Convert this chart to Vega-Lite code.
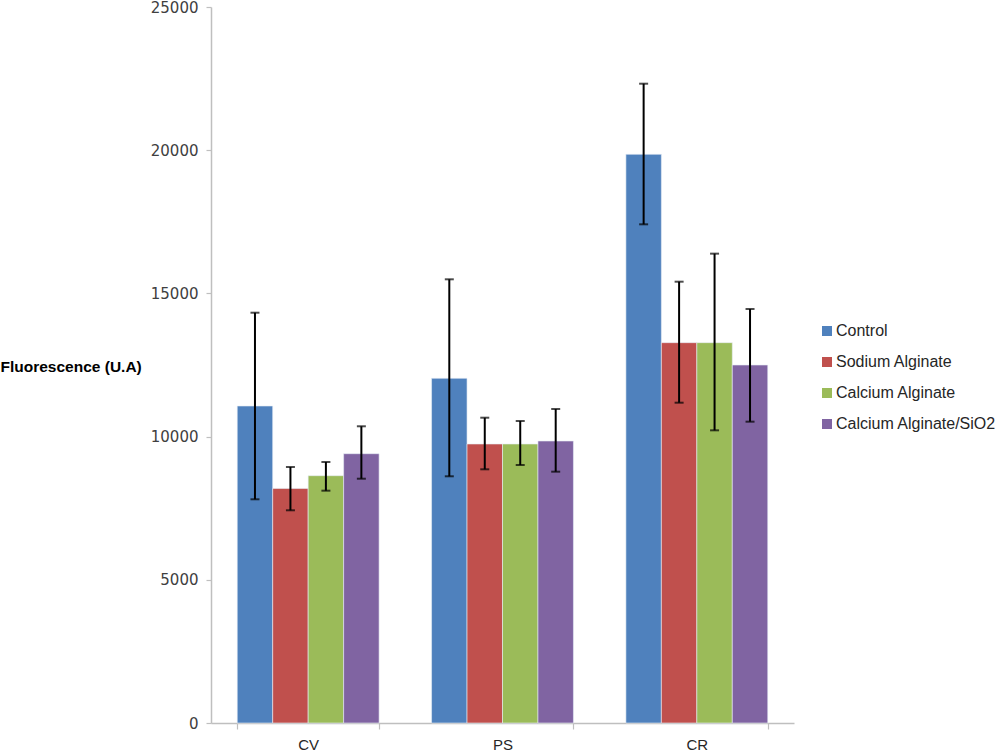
{
  "$schema": "https://vega.github.io/schema/vega-lite/v6.json",
  "width": 583,
  "height": 716,
  "autosize": "none",
  "padding": {"left": 211, "top": 7, "right": 206, "bottom": 30},
  "background": "white",
  "data": {
    "values": [
      {"site": "CV", "group": "Control", "value": 11068, "lo": 7811, "hi": 14326},
      {"site": "CV", "group": "Sodium Alginate", "value": 8190, "lo": 7427, "hi": 8939},
      {"site": "CV", "group": "Calcium Alginate", "value": 8635, "lo": 8112, "hi": 9113},
      {"site": "CV", "group": "Calcium Alginate/SiO2", "value": 9403, "lo": 8530, "hi": 10360},
      {"site": "PS", "group": "Control", "value": 12035, "lo": 8614, "hi": 15492},
      {"site": "PS", "group": "Sodium Alginate", "value": 9742, "lo": 8858, "hi": 10660},
      {"site": "PS", "group": "Calcium Alginate", "value": 9742, "lo": 9008, "hi": 10545},
      {"site": "PS", "group": "Calcium Alginate/SiO2", "value": 9846, "lo": 8775, "hi": 10964},
      {"site": "CR", "group": "Control", "value": 19856, "lo": 17412, "hi": 22322},
      {"site": "CR", "group": "Sodium Alginate", "value": 13280, "lo": 11184, "hi": 15409},
      {"site": "CR", "group": "Calcium Alginate", "value": 13280, "lo": 10219, "hi": 16388},
      {"site": "CR", "group": "Calcium Alginate/SiO2", "value": 12500, "lo": 10521, "hi": 14455}
    ]
  },
  "config": {
    "view": {"stroke": null},
    "axis": {"grid": false, "domainColor": "#bfbfbf", "tickColor": "#bfbfbf", "domainWidth": 1.5, "tickWidth": 1.2}
  },
  "encoding": {
    "x": {
      "field": "site", "type": "nominal", "sort": ["CV", "PS", "CR"],
      "scale": {"paddingInner": 0.27, "paddingOuter": 0.135},
      "axis": {"title": null, "labelAngle": 0, "tickBand": "extent", "tickSize": 6, "labelFont": "Liberation Sans", "labelFontSize": 15, "labelColor": "#262626", "labelPadding": 8}
    },
    "xOffset": {"field": "group", "type": "nominal", "sort": ["Control", "Sodium Alginate", "Calcium Alginate", "Calcium Alginate/SiO2"]}
  },
  "layer": [
    {
      "mark": {"type": "bar", "stroke": "#e8eef6", "strokeWidth": 0.6},
      "encoding": {
        "y": {
          "field": "value", "type": "quantitative",
          "scale": {"domain": [0, 25000], "nice": false},
          "axis": {
            "values": [0, 5000, 10000, 15000, 20000, 25000], "format": "d", "tickSize": 5,
            "labelFont": "DejaVu Sans", "labelFontSize": 15, "labelColor": "#404040", "labelPadding": 8,
            "title": "Fluorescence (U.A)", "titleAngle": 0, "titleX": -211, "titleY": 359,
            "titleAlign": "left", "titleBaseline": "middle", "titleFont": "Liberation Sans",
            "titleFontSize": 15.5, "titleFontWeight": "bold", "titleColor": "#000000"
          }
        },
        "color": {
          "field": "group", "type": "nominal",
          "sort": ["Control", "Sodium Alginate", "Calcium Alginate", "Calcium Alginate/SiO2"],
          "scale": {"domain": ["Control", "Sodium Alginate", "Calcium Alginate", "Calcium Alginate/SiO2"], "range": ["#4F81BD", "#C0504D", "#9BBB59", "#8064A2"]},
          "legend": {
            "title": null, "orient": "none", "legendX": 608, "legendY": 316,
            "symbolType": "square", "symbolSize": 100, "symbolStrokeWidth": 0, "symbolOpacity": 1,
            "labelFont": "Liberation Sans", "labelFontSize": 16, "labelColor": "#262626",
            "labelLimit": 400, "rowPadding": 15, "labelOffset": 1
          }
        }
      }
    },
    {
      "mark": {"type": "rule", "color": "black", "strokeWidth": 2},
      "encoding": {
        "y": {"field": "lo", "type": "quantitative"},
        "y2": {"field": "hi"}
      }
    },
    {
      "mark": {"type": "tick", "color": "black", "thickness": 2, "size": 9},
      "encoding": {"y": {"field": "lo", "type": "quantitative"}}
    },
    {
      "mark": {"type": "tick", "color": "black", "thickness": 2, "size": 9},
      "encoding": {"y": {"field": "hi", "type": "quantitative"}}
    }
  ]
}
